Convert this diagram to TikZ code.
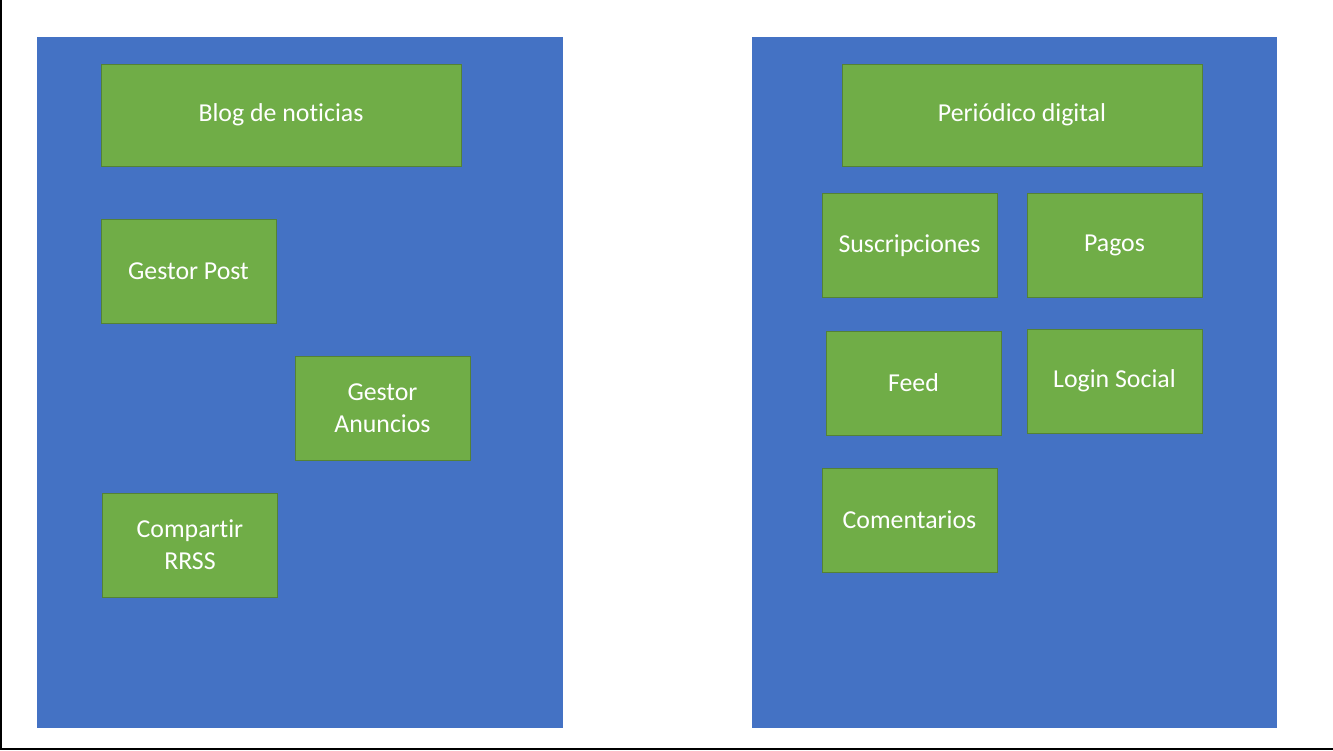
\documentclass[tikz,border=0pt]{standalone}
\usepackage{fontspec}
\setmainfont[RawFeature=-liga]{Carlito}
\definecolor{panelblue}{HTML}{4472C4}
\definecolor{boxgreen}{HTML}{70AD47}
\definecolor{boxedge}{HTML}{548235}
\tikzset{
  panel/.style={fill=panelblue,inner sep=0pt,minimum width=10.52cm,minimum height=13.82cm},
  module/.style={fill=boxgreen,draw=boxedge,line width=.5pt,inner sep=0pt,
    minimum width=3.5cm,minimum height=2.08cm,text=white,align=center,
    font=\fontsize{14.7}{18.2}\selectfont,execute at begin node={\vspace*{3pt}}},
  app/.style={module,minimum width=7.2cm,minimum height=2.04cm},
}
\tikzstyle{frame}=[line width=1.1pt]
\begin{document}
\begin{tikzpicture}[x=0.02cm,y=-0.02cm]
    \useasboundingbox (0,0) rectangle (1333,751);
    \draw[frame] (1,0)--(1,749)--(1333,749);
    \node[panel] (blog) at (300,382.5) {};
    \node[panel] (diario) at (1014.5,382.5) {};
    \node[app] (bloghead) at (281,115) {Blog de noticias};
    \node[module] (post) at (188.5,271) {Gestor Post};
    \node[module] (anuncios) at (382.5,408) {Gestor\\Anuncios};
    \node[module] (rrss) at (190,545) {Compartir\\RRSS};
    \node[app] (diariohead) at (1022,115) {Periódico digital};
    \node[module] (suscripciones) at (909.5,245.5) {Suscripciones};
    \node[module] (pagos) at (1114.5,245.5) {Pagos};
    \node[module] (feed) at (913.5,383) {Feed};
    \node[module] (login) at (1114.5,381) {Login Social};
    \node[module] (comentarios) at (909.5,520) {Comentarios};
  \end{tikzpicture}
\end{document}
